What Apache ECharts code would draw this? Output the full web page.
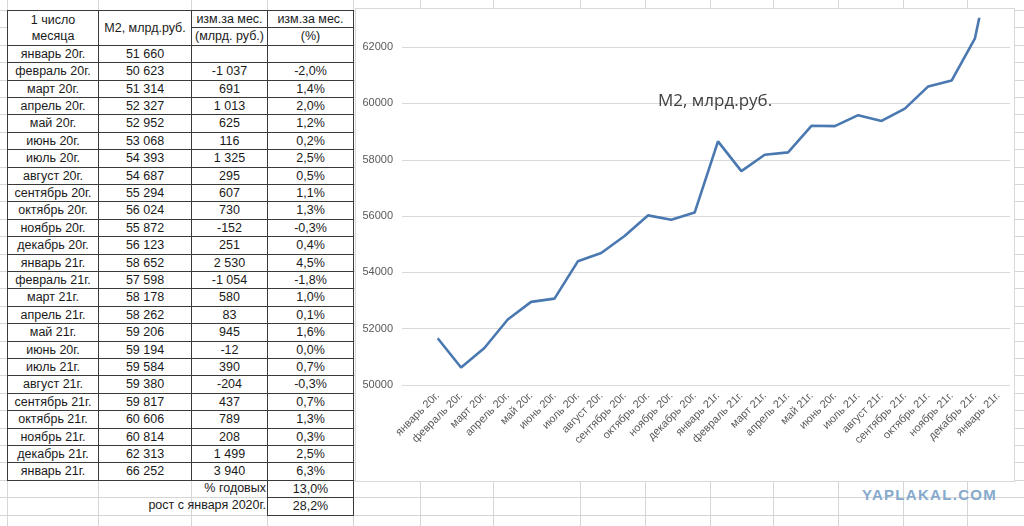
<!DOCTYPE html>
<html>
<head>
<meta charset="utf-8">
<script src="https://cdn.jsdelivr.net/npm/echarts@6/dist/echarts.min.js"></script>
<style>
  body { margin:0; background:#fff; width:1024px; height:526px; overflow:hidden; position:relative; font-family:"Liberation Sans", Arial, sans-serif; }
  .gl { position:absolute; background:#d6d6d6; }
  .c { position:absolute; box-sizing:border-box; font-size:12.5px; color:#1a1a1a; text-align:center; white-space:nowrap; }
  .b { border:1px solid #3a3a3a; background:#fff; }
  #box { position:absolute; left:355px; top:8px; width:660px; height:474px; background:#fff; border:1px solid #d9d9d9; box-sizing:border-box; }
  #echart1 { position:absolute; left:0; top:0; width:658px; height:472px; }
  #wm { position:absolute; left:862px; top:486px; font:bold 15px "Liberation Sans", Arial, sans-serif; color:#86a9cc; letter-spacing:1.3px; }
</style>
</head>
<body>
<div id="sheet"></div>
<div id="box"><div id="echart1"></div></div>
<div id="wm">YAPLAKAL.COM</div>
<script>
var months = ['январь 20г.', 'февраль 20г.', 'март 20г.', 'апрель 20г.', 'май 20г.', 'июнь 20г.', 'июль 20г.', 'август 20г.', 'сентябрь 20г.', 'октябрь 20г.', 'ноябрь 20г.', 'декабрь 20г.',
              'январь 21г.', 'февраль 21г.', 'март 21г.', 'апрель 21г.', 'май 21г.', 'июнь 20г.', 'июль 21г.', 'август 21г.', 'сентябрь 21г.', 'октябрь 21г.', 'ноябрь 21г.', 'декабрь 21г.', 'январь 21г.'];
var m2 = [51660, 50623, 51314, 52327, 52952, 53068, 54393, 54687, 55294, 56024, 55872, 56123,
          58652, 57598, 58178, 58262, 59206, 59194, 59584, 59380, 59817, 60606, 60814, 62313, 66252];
var chgAbs = ['', '-1 037', '691', '1 013', '625', '116', '1 325', '295', '607', '730', '-152', '251',
              '2 530', '-1 054', '580', '83', '945', '-12', '390', '-204', '437', '789', '208', '1 499', '3 940'];
var chgPct = ['', '-2,0%', '1,4%', '2,0%', '1,2%', '0,2%', '2,5%', '0,5%', '1,1%', '1,3%', '-0,3%', '0,4%',
              '4,5%', '-1,8%', '1,0%', '0,1%', '1,6%', '0,0%', '0,7%', '-0,3%', '0,7%', '1,3%', '0,3%', '2,5%', '6,3%'];
var footLabels = ['% годовых', 'рост с января 2020г.'];
var footValues = ['13,0%', '28,2%'];
var yTicks = { min: 50000, max: 63000, step: 2000 };

// spreadsheet background and table
var sheet = document.getElementById('sheet');
var colX = [7, 98, 191, 267, 353];
var rowH = 17.4, top0 = 10;
function add(cls, x, y, w, h, html, extra) {
    var d = document.createElement('div');
    d.className = cls;
    d.style.left = x + 'px'; d.style.top = y + 'px';
    d.style.width = w + 'px'; d.style.height = h + 'px';
    if (html !== undefined) { d.innerHTML = html; d.style.lineHeight = (h - 2) + 'px'; }
    if (extra) for (var k in extra) d.style[k] = extra[k];
    sheet.appendChild(d);
    return d;
}
for (var k = -1; k < 31; k++) add('gl', 0, Math.round(top0 + k * rowH), 1024, 1);
[7, 98, 191, 267, 353, 420, 493, 580, 645, 710, 773, 838, 903, 967].forEach(function (x) { add('gl', x, 0, 1, 526); });

function ry(r) { return Math.round(top0 + r * rowH); }
function cell(c1, c2, r1, r2, text, bordered, extra) {
    var x = colX[c1], y = ry(r1);
    return add('c' + (bordered ? ' b' : ''), x, y, colX[c2] - x + 1, ry(r2) - y + 1, text, extra);
}
var h1 = cell(0, 1, 0, 2, '1 число<br>месяца', true);
h1.style.lineHeight = '16px'; h1.style.paddingTop = '1px';
cell(1, 2, 0, 2, 'M2, млрд.руб.', true);
cell(2, 3, 0, 1, 'изм.за мес.', true);
cell(2, 3, 1, 2, '(млрд. руб.)', true);
cell(3, 4, 0, 1, 'изм.за мес.', true);
cell(3, 4, 1, 2, '(%)', true);
months.forEach(function (m, i) {
    var r = i + 2;
    cell(0, 1, r, r + 1, m, true);
    cell(1, 2, r, r + 1, String(m2[i]).replace(/(\d)(\d{3})$/, '$1 $2'), true);
    cell(2, 3, r, r + 1, chgAbs[i], true);
    cell(3, 4, r, r + 1, chgPct[i], true);
});
footLabels.forEach(function (t, i) {
    var r = months.length + 2 + i;
    cell(0, 3, r, r + 1, t, false, { textAlign: 'right', paddingRight: '2px' });
    cell(3, 4, r, r + 1, footValues[i], true);
});

// chart
var myChart = echarts.init(document.getElementById('echart1'));
var labelFont = { color: '#595959', fontSize: 11, fontFamily: '"Liberation Sans", Arial, sans-serif' };
var option = {
    animation: false,
    title: {
        text: 'M2, млрд.руб.',
        left: 297, top: 79,
        textStyle: { color: '#404040', fontSize: 17, fontWeight: 'normal', fontFamily: '"Open Sans", sans-serif' }
    },
    grid: [
        { left: 46, right: 4, top: 10, bottom: 96 },
        { left: 70, right: 4, top: 10, bottom: 96 }
    ],
    xAxis: [
        { gridIndex: 0, type: 'category', data: months, show: false },
        {
            gridIndex: 1, type: 'category', data: months,
            axisLine: { show: false }, axisTick: { show: false },
            axisLabel: Object.assign({ rotate: 45, margin: 9, interval: 0 }, labelFont)
        }
    ],
    yAxis: [
        {
            gridIndex: 0, type: 'value', min: yTicks.min, max: yTicks.max, interval: yTicks.step,
            axisLine: { show: false }, axisTick: { show: false },
            axisLabel: Object.assign({
                margin: 9, showMaxLabel: false,
                formatter: function (v) { return String(v); }
            }, labelFont),
            splitLine: { showMaxLine: false, lineStyle: { color: '#d9d9d9', width: 1 } }
        },
        { gridIndex: 1, type: 'value', min: yTicks.min, max: yTicks.max, show: false, splitLine: { show: false } }
    ],
    series: [{
        name: 'M2',
        type: 'line',
        xAxisIndex: 1, yAxisIndex: 1,
        data: m2,
        symbol: 'none',
        clip: true,
        lineStyle: { color: '#4a78b0', width: 2.6 }
    }]
};
myChart.setOption(option);
</script>
</body>
</html>
